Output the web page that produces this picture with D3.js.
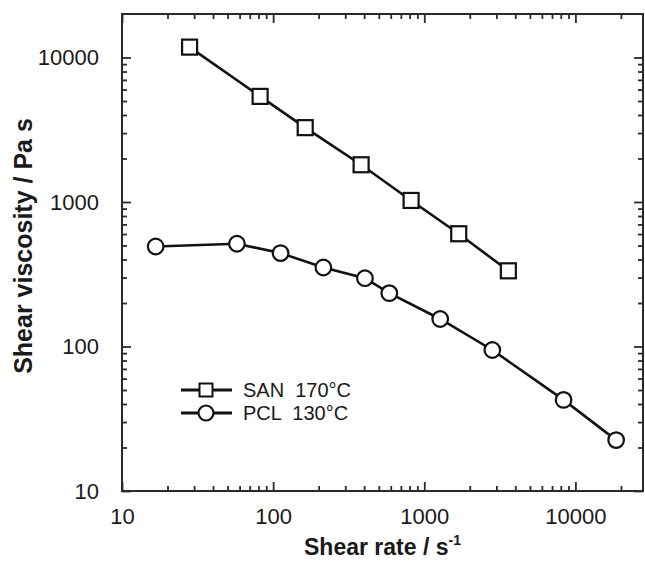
<!DOCTYPE html>
<html>
<head>
<meta charset="utf-8" />
<title>shear viscosity</title>
<script src="https://d3js.org/d3.v7.min.js"></script>
<style>
  body { margin: 0; background: #fff; }
  text { font-family: "Liberation Sans", Arial, sans-serif; fill: #1a1a1a; }
</style>
</head>
<body>
<svg id="chart" width="645" height="562"></svg>
<script>
// shear rate (1/s) and viscosity (Pa s)
const sanRate = [28, 82, 163, 382, 818, 1690, 3600];
const sanVisc = [11800, 5380, 3270, 1810, 1025, 603, 334];
const pclRate = [16.7, 57.6, 112, 215, 405, 587, 1275, 2820, 8350, 18600];
const pclVisc = [492, 514, 443, 352, 297, 234, 155, 94.6, 42.7, 22.5];

const legendLabels = ["SAN  170\u00b0C", "PCL  130\u00b0C"];
const xTickLabels = [10, 100, 1000, 10000];
const yTickLabels = [10, 100, 1000, 10000];

const svg = d3.select("#chart");
const plotL = 122, plotR = 643, plotT = 14, plotB = 491;

const x = d3.scaleLog().domain([10, 28000]).range([plotL, plotR]);
const y = d3.scaleLog().domain([10, 20000]).range([plotB, plotT]);

// minor ticks: 2..9 in each decade inside the domain
function minors(scale) {
  const [a, b] = scale.domain();
  const out = [];
  for (let d = 1; d <= 1e5; d *= 10)
    for (let k = 2; k <= 9; k++) {
      const v = k * d;
      if (v > a && v < b) out.push(v);
    }
  return out;
}

const ink = "#2a2a2a";

function styleAxis(g) {
  g.select(".domain").remove();
  g.selectAll(".tick line").attr("stroke", ink).attr("stroke-width", 1.8);
  g.selectAll(".tick text").style("font-size", "22px").attr("fill", "#1a1a1a");
}

// bottom
svg.append("g").attr("transform", `translate(0,${plotB})`)
  .call(d3.axisBottom(x).tickValues(xTickLabels).tickFormat(d3.format("d")).tickSizeInner(-9).tickPadding(17))
  .call(styleAxis);
svg.append("g").attr("transform", `translate(0,${plotB})`)
  .call(d3.axisBottom(x).tickValues(minors(x)).tickFormat("").tickSizeInner(-5))
  .call(styleAxis);
// top (mirrored)
svg.append("g").attr("transform", `translate(0,${plotT})`)
  .call(d3.axisTop(x).tickValues(xTickLabels).tickFormat("").tickSizeInner(-9))
  .call(styleAxis);
svg.append("g").attr("transform", `translate(0,${plotT})`)
  .call(d3.axisTop(x).tickValues(minors(x)).tickFormat("").tickSizeInner(-5))
  .call(styleAxis);
// left
svg.append("g").attr("transform", `translate(${plotL},0)`)
  .call(d3.axisLeft(y).tickValues(yTickLabels).tickFormat(d3.format("d")).tickSizeInner(-9).tickPadding(23))
  .call(styleAxis);
svg.append("g").attr("transform", `translate(${plotL},0)`)
  .call(d3.axisLeft(y).tickValues(minors(y)).tickFormat("").tickSizeInner(-5))
  .call(styleAxis);
// right
svg.append("g").attr("transform", `translate(${plotR},0)`)
  .call(d3.axisRight(y).tickValues(yTickLabels).tickFormat("").tickSizeInner(-9))
  .call(styleAxis);
svg.append("g").attr("transform", `translate(${plotR},0)`)
  .call(d3.axisRight(y).tickValues(minors(y)).tickFormat("").tickSizeInner(-5))
  .call(styleAxis);

// frame
svg.append("rect")
  .attr("x", plotL).attr("y", plotT)
  .attr("width", plotR - plotL).attr("height", plotB - plotT)
  .attr("fill", "none").attr("stroke", ink).attr("stroke-width", 2);

// axis titles
svg.append("text")
  .attr("x", (plotL + plotR) / 2).attr("y", 555)
  .attr("text-anchor", "middle")
  .style("font-size", "23px").style("font-weight", "bold")
  .text("Shear rate / s")
  .append("tspan").attr("dy", -10).style("font-size", "14px").text("-1");

svg.append("text")
  .attr("transform", "translate(32,246) rotate(-90)")
  .attr("text-anchor", "middle")
  .style("font-size", "25px").style("font-weight", "bold")
  .text("Shear viscosity / Pa s");

// series
const line = d3.line().x(d => x(d[0])).y(d => y(d[1]));
const san = sanRate.map((r, i) => [r, sanVisc[i]]);
const pcl = pclRate.map((r, i) => [r, pclVisc[i]]);

svg.append("path").datum(san).attr("d", line)
  .attr("fill", "none").attr("stroke", "#111").attr("stroke-width", 2.6);
svg.append("path").datum(pcl).attr("d", line)
  .attr("fill", "none").attr("stroke", "#111").attr("stroke-width", 2.6);

const sq = 15;
svg.selectAll(".san").data(san).join("rect")
  .attr("x", d => x(d[0]) - sq / 2).attr("y", d => y(d[1]) - sq / 2)
  .attr("width", sq).attr("height", sq)
  .attr("fill", "#fff").attr("stroke", "#111").attr("stroke-width", 2.2);
svg.selectAll(".pcl").data(pcl).join("circle")
  .attr("cx", d => x(d[0])).attr("cy", d => y(d[1])).attr("r", 7.8)
  .attr("fill", "#fff").attr("stroke", "#111").attr("stroke-width", 2.2);

// legend
const lg = svg.append("g");
const rows = [390, 413];
rows.forEach((ry, i) => {
  lg.append("line").attr("x1", 181).attr("x2", 232).attr("y1", ry).attr("y2", ry)
    .attr("stroke", "#111").attr("stroke-width", 3);
  if (i === 0) {
    lg.append("rect").attr("x", 206 - 6.5).attr("y", ry - 6.5).attr("width", 13).attr("height", 13)
      .attr("fill", "#fff").attr("stroke", "#111").attr("stroke-width", 2);
  } else {
    lg.append("circle").attr("cx", 206).attr("cy", ry).attr("r", 7.5)
      .attr("fill", "#fff").attr("stroke", "#111").attr("stroke-width", 2.2);
  }
  lg.append("text").attr("x", 243).attr("y", ry + 7)
    .style("font-size", "20px").style("white-space", "pre")
    .text(legendLabels[i]);
});
</script>
</body>
</html>
